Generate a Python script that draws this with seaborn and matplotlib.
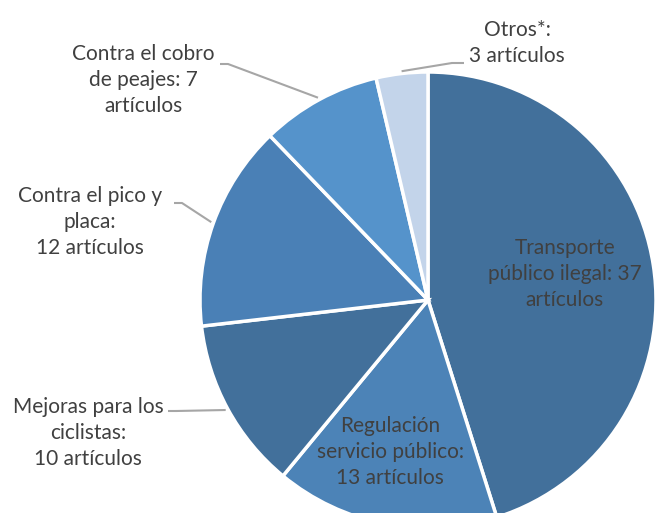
import matplotlib
matplotlib.use("Agg")
import matplotlib.pyplot as plt
import seaborn as sns
import numpy as np

categories = ["Transporte\npúblico ilegal: 37\nartículos",
              "Regulación\nservicio público:\n13 artículos",
              "Mejoras para los\nciclistas:\n10 artículos",
              "Contra el pico y\nplaca:\n12 artículos",
              "Contra el cobro\nde peajes: 7\nartículos",
              "Otros*:\n3 artículos"]
values = [37, 13, 10, 12, 7, 3]
colors = ["#42709b", "#4c83b7", "#42709b", "#4a80b6", "#5593cb", "#c3d4ea"]

# pixel layout of the original (center, radius)
W, H = 660, 513
cx, cy, r = 428, 300, 228

def px(x, y):
    return (x - cx) / r, (cy - y) / r

sns.set_theme(style="white")
plt.rcParams['font.family'] = ['Lato', 'DejaVu Sans']

fig = plt.figure(figsize=(W / 100, H / 100), dpi=100)
ax = fig.add_axes([0, 0, 1, 1])
wedges, _ = ax.pie(values, colors=colors, startangle=90, counterclock=False,
                   radius=1, wedgeprops=dict(edgecolor="white", linewidth=2.5))
ax.set_xlim(-cx / r, (W - cx) / r)
ax.set_ylim((cy - H) / r, cy / r)
ax.set_aspect("equal")
ax.axis("off")

txt = "#404040"
fs = 15

# labels inside the pie
inside = {0: (565, 274), 1: (390, 452)}
# labels outside with leader lines: text pos, elbow pos
outside = {2: ((88, 433), (176, 411)),
           3: ((90, 222), (182, 203)),
           4: ((143, 80), (228, 64)),
           5: ((517, 43), (452, 63))}

for i, w in enumerate(wedges):
    if i in inside:
        x, y = px(*inside[i])
        ax.text(x, y, categories[i], ha="center", va="center", fontsize=fs,
                color=txt, linespacing=1.35)
    else:
        (tx, ty), (ex, ey) = outside[i]
        x, y = px(tx, ty)
        ax.text(x, y, categories[i], ha="center", va="center", fontsize=fs,
                color=txt, linespacing=1.35)
        ang = np.deg2rad((w.theta1 + w.theta2) / 2)
        edge = (np.cos(ang) * 1.01, np.sin(ang) * 1.01)
        e = px(ex, ey)
        if i == 5:
            e2 = px(ex + 12, ey)
        else:
            e2 = px(ex - 8, ey)
        ax.plot([edge[0], e[0], e2[0]], [edge[1], e[1], e2[1]],
                color="#a6a6a6", linewidth=1.5, solid_capstyle="butt")

fig.savefig("out.png", dpi=100)
